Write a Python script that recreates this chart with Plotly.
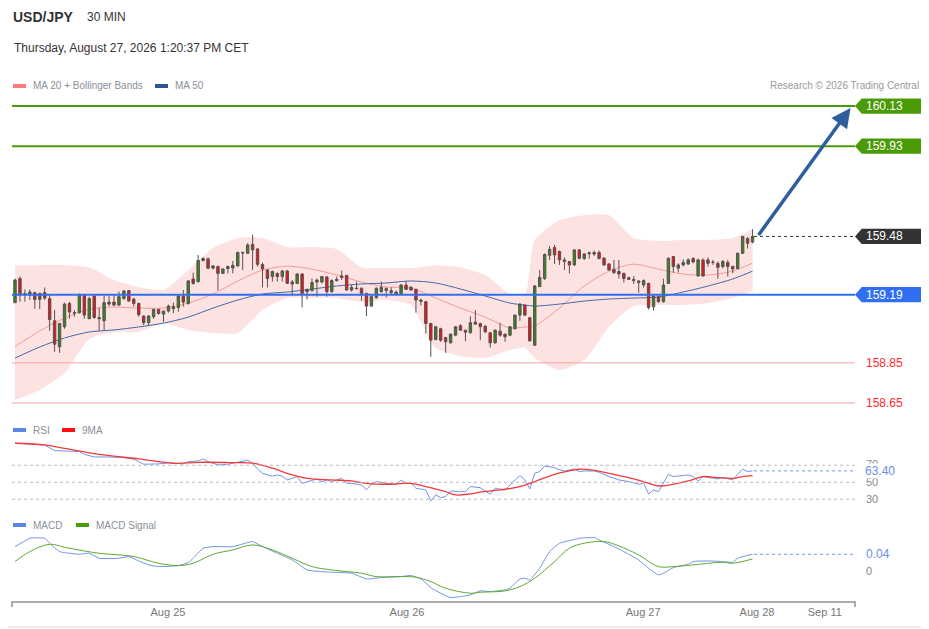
import plotly.graph_objects as go

# 30 min USD/JPY candles (candle index 0..149)
open_ = [159.15, 159.27, 159.19, 159.188, 159.20, 159.166, 159.20, 159.17, 159.06, 158.93,
         159.03, 159.146, 159.10, 159.10, 159.185, 159.07, 159.183, 159.076, 159.06, 159.143,
         159.153, 159.138, 159.17, 159.21, 159.168, 159.146, 159.083, 159.05, 159.08, 159.116,
         159.093, 159.108, 159.13, 159.126, 159.183, 159.146, 159.268, 159.255, 159.36, 159.368,
         159.322, 159.33, 159.296, 159.32, 159.323, 159.333, 159.40, 159.396, 159.44, 159.418,
         159.34, 159.313, 159.28, 159.296, 159.28, 159.308, 159.253, 159.246, 159.293, 159.205,
         159.21, 159.253, 159.253, 159.278, 159.205, 159.26, 159.283, 159.286, 159.213, 159.222,
         159.222, 159.196, 159.133, 159.175, 159.205, 159.22, 159.21, 159.203, 159.193, 159.238,
         159.226, 159.216, 159.163, 159.155, 159.046, 158.966, 159.02, 158.976, 158.95, 158.988,
         159.035, 159.013, 159.0, 159.053, 159.046, 159.033, 159.0, 158.95, 159.008, 158.993,
         158.988, 159.02, 159.088, 159.138, 159.075, 158.938, 159.23, 159.27, 159.386, 159.425,
         159.405, 159.363, 159.355, 159.338, 159.413, 159.37, 159.393, 159.40, 159.40, 159.372,
         159.343, 159.316, 159.305, 159.296, 159.274, 159.266, 159.258, 159.238, 159.246, 159.13,
         159.18, 159.155, 159.246, 159.38, 159.322, 159.338, 159.343, 159.37, 159.283, 159.363,
         159.363, 159.35, 159.346, 159.33, 159.35, 159.33, 159.32, 159.396, 159.47, 159.452]
high = [159.27, 159.28, 159.216, 159.216, 159.205, 159.20, 159.226, 159.19, 159.113, 159.05,
        159.15, 159.155, 159.113, 159.196, 159.188, 159.18, 159.19, 159.125, 159.183, 159.183,
        159.188, 159.205, 159.213, 159.213, 159.175, 159.15, 159.088, 159.088, 159.12, 159.12,
        159.11, 159.14, 159.15, 159.188, 159.213, 159.263, 159.30, 159.388, 159.376, 159.376,
        159.338, 159.335, 159.32, 159.335, 159.358, 159.405, 159.405, 159.446, 159.488, 159.42,
        159.35, 159.316, 159.31, 159.30, 159.313, 159.313, 159.263, 159.296, 159.296, 159.22,
        159.27, 159.27, 159.283, 159.283, 159.266, 159.28, 159.31, 159.288, 159.238, 159.255,
        159.226, 159.20, 159.186, 159.226, 159.255, 159.226, 159.226, 159.21, 159.243, 159.255,
        159.233, 159.22, 159.17, 159.158, 159.05, 159.033, 159.025, 158.98, 158.996, 159.033,
        159.043, 159.013, 159.083, 159.113, 159.05, 159.038, 159.005, 159.016, 159.05, 158.996,
        159.033, 159.09, 159.146, 159.14, 159.08, 159.238, 159.313, 159.396, 159.433, 159.438,
        159.41, 159.376, 159.358, 159.416, 159.416, 159.396, 159.405, 159.41, 159.41, 159.376,
        159.348, 159.363, 159.363, 159.30, 159.28, 159.283, 159.263, 159.266, 159.25, 159.188,
        159.183, 159.27, 159.376, 159.383, 159.346, 159.366, 159.371, 159.376, 159.37, 159.37,
        159.376, 159.363, 159.355, 159.363, 159.363, 159.335, 159.40, 159.483, 159.476, 159.516]
low = [159.148, 159.155, 159.155, 159.163, 159.12, 159.118, 159.163, 159.01, 158.905, 158.90,
       159.02, 159.07, 159.08, 159.096, 159.07, 159.07, 159.07, 159.01, 159.013, 159.133,
       159.133, 159.133, 159.166, 159.155, 159.13, 159.08, 159.038, 159.038, 159.07, 159.09,
       159.053, 159.10, 159.097, 159.105, 159.13, 159.14, 159.24, 159.25, 159.355, 159.316,
       159.316, 159.21, 159.293, 159.296, 159.296, 159.33, 159.313, 159.393, 159.313, 159.33,
       159.226, 159.226, 159.255, 159.255, 159.255, 159.243, 159.193, 159.243, 159.126, 159.166,
       159.205, 159.18, 159.246, 159.18, 159.20, 159.255, 159.263, 159.21, 159.205, 159.216,
       159.16, 159.083, 159.13, 159.17, 159.20, 159.176, 159.193, 159.188, 159.188, 159.213,
       159.21, 159.10, 159.136, 158.996, 158.88, 158.963, 158.955, 158.90, 158.946, 158.983,
       159.01, 158.958, 158.996, 159.04, 158.963, 158.998, 158.926, 158.946, 158.98, 158.955,
       158.983, 159.016, 159.06, 159.083, 158.955, 158.935, 159.23, 159.263, 159.363, 159.343,
       159.338, 159.313, 159.296, 159.333, 159.366, 159.363, 159.37, 159.383, 159.366, 159.333,
       159.31, 159.293, 159.27, 159.25, 159.263, 159.243, 159.20, 159.226, 159.116, 159.11,
       159.15, 159.15, 159.243, 159.30, 159.30, 159.33, 159.338, 159.346, 159.28, 159.28,
       159.33, 159.338, 159.27, 159.32, 159.28, 159.296, 159.316, 159.393, 159.42, 159.446]
close = [159.263, 159.19, 159.195, 159.203, 159.166, 159.196, 159.173, 159.066, 158.943, 159.046,
         159.143, 159.103, 159.098, 159.19, 159.088, 159.17, 159.076, 159.07, 159.15, 159.153,
         159.138, 159.18, 159.208, 159.158, 159.146, 159.09, 159.05, 159.083, 159.116, 159.096,
         159.108, 159.133, 159.12, 159.183, 159.153, 159.258, 159.246, 159.36, 159.37, 159.322,
         159.333, 159.296, 159.318, 159.33, 159.336, 159.40, 159.398, 159.438, 159.413, 159.341,
         159.318, 159.27, 159.305, 159.28, 159.308, 159.246, 159.243, 159.293, 159.196, 159.216,
         159.25, 159.263, 159.28, 159.205, 159.26, 159.266, 159.276, 159.213, 159.226, 159.22,
         159.196, 159.133, 159.18, 159.222, 159.226, 159.21, 159.20, 159.193, 159.238, 159.216,
         159.213, 159.163, 159.157, 159.046, 158.963, 159.03, 158.963, 158.955, 158.993, 159.03,
         159.013, 159.003, 159.05, 159.043, 159.03, 159.005, 158.95, 159.013, 158.988, 158.98,
         159.03, 159.088, 159.143, 159.088, 158.96, 159.233, 159.276, 159.39, 159.416, 159.388,
         159.363, 159.355, 159.338, 159.413, 159.371, 159.393, 159.398, 159.392, 159.37, 159.338,
         159.313, 159.30, 159.293, 159.27, 159.266, 159.26, 159.25, 159.26, 159.126, 159.183,
         159.155, 159.238, 159.371, 159.33, 159.338, 159.35, 159.363, 159.353, 159.363, 159.283,
         159.346, 159.352, 159.326, 159.355, 159.33, 159.318, 159.396, 159.48, 159.446, 159.48]
idx = list(range(len(close)))

# MA 20 + Bollinger Bands, MA 50 (read at sampled candles)
band_idx = [0, 5, 10, 15, 20, 25, 30, 35, 40, 45, 50, 55, 60, 65, 70, 75, 80, 85, 90, 95,
            100, 103, 105, 110, 115, 120, 125, 130, 135, 140, 145, 149]
bb_upper = [159.337, 159.337, 159.337, 159.327, 159.263, 159.228, 159.213, 159.312, 159.422, 159.472,
            159.472, 159.427, 159.427, 159.417, 159.327, 159.322, 159.322, 159.337, 159.327, 159.288,
            159.193, 159.188, 159.462, 159.561, 159.586, 159.586, 159.472, 159.457, 159.462, 159.462,
            159.472, 159.517]
bb_lower = [158.665, 158.715, 158.799, 158.969, 159.004, 159.004, 159.048, 159.014, 158.999, 158.999,
            159.113, 159.173, 159.173, 159.173, 159.153, 159.163, 159.138, 158.924, 158.884, 158.874,
            158.914, 158.924, 158.874, 158.814, 158.864, 159.029, 159.133, 159.138, 159.138, 159.148,
            159.173, 159.208]
ma20 = [158.931, 159.009, 159.073, 159.118, 159.128, 159.123, 159.123, 159.148, 159.193, 159.258,
        159.312, 159.332, 159.317, 159.288, 159.253, 159.228, 159.223, 159.173, 159.123, 159.078,
        159.024, 159.029, 159.034, 159.123, 159.233, 159.307, 159.342, 159.317, 159.292, 159.288,
        159.307, 159.347]
ma50 = [158.874, 158.929, 158.974, 159.004, 159.014, 159.029, 159.048, 159.078, 159.123, 159.163,
        159.193, 159.203, 159.218, 159.233, 159.243, 159.248, 159.258, 159.248, 159.218, 159.183,
        159.148, 159.138, 159.133, 159.143, 159.158, 159.168, 159.173, 159.178, 159.203, 159.233,
        159.268, 159.307]

# RSI and its 9MA
rsi_idx = [0, 3, 6, 8, 10, 13, 14, 16, 19, 22, 24, 26, 29, 31, 34, 35, 37, 38, 39, 41,
           43, 45, 47, 48, 49, 50, 52, 53, 54, 55, 56, 57, 58, 59, 61, 62, 63, 64, 66, 67,
           68, 70, 71, 72, 73, 75, 77, 78, 79, 80, 81, 83, 84, 85, 86, 87, 88, 90, 91, 92,
           94, 96, 97, 99, 100, 102, 103, 104, 105, 106, 107, 109, 110, 111, 113, 114, 115, 117, 118, 120,
           122, 124, 126, 127, 128, 129, 130, 131, 132, 133, 134, 136, 137, 138, 139, 140, 142, 143, 145, 146,
           147, 148, 149]
rsi_val = [95.9, 95.1, 93.9, 87.3, 86.9, 86.1, 82.9, 79.8, 79.8, 79.0, 77.1, 71.2, 71.6, 72.8, 71.6, 74.3, 75.1, 77.5, 74.3, 70.4,
           71.2, 73.5, 75.9, 72.4, 65.7, 60.6, 57.1, 58.6, 57.1, 52.8, 54.7, 56.7, 48.8, 50.8, 53.9, 50.8, 52.8, 50.8, 54.7, 48.8,
           48.8, 46.9, 41.0, 47.7, 50.8, 48.8, 47.7, 52.4, 48.8, 48.8, 43.0, 41.0, 28.1, 35.1, 32.0, 33.2, 39.8, 38.8, 39.0, 44.9,
           43.7, 35.9, 43.0, 41.0, 46.9, 57.9, 52.8, 42.2, 60.6, 62.6, 69.2, 67.3, 64.5, 63.3, 65.7, 62.6, 63.3, 63.3, 61.8, 56.7,
           52.8, 50.8, 47.7, 48.8, 36.3, 41.0, 39.0, 48.8, 59.4, 56.7, 57.5, 58.6, 56.7, 51.6, 56.7, 55.5, 53.9, 55.5, 52.8, 59.4,
           65.3, 62.6, 63.4]
rsi_ma_idx = [0, 6, 10, 17, 25, 32, 37, 44, 48, 52, 56, 59, 64, 68, 71, 76, 80, 83, 87, 89,
              92, 94, 98, 102, 105, 109, 112, 114, 117, 120, 124, 127, 130, 133, 136, 139, 142, 145, 147, 149]
rsi_ma_val = [95.9, 93.9, 90.0, 82.9, 77.5, 72.4, 73.5, 73.1, 72.4, 66.5, 58.6, 54.7, 52.8, 51.6, 48.8, 47.7, 48.8, 44.9, 39.0, 35.1,
              36.3, 38.3, 41.0, 44.9, 50.8, 59.4, 63.3, 65.3, 64.1, 60.6, 55.5, 50.8, 45.7, 47.7, 51.6, 56.7, 55.5, 54.7, 56.7, 57.9]

# MACD and signal
macd_idx = [0, 2, 3, 6, 7, 9, 10, 13, 15, 17, 21, 23, 25, 27, 29, 33, 35, 36, 38, 40,
            44, 47, 48, 50, 53, 56, 59, 62, 64, 68, 71, 74, 78, 80, 82, 84, 86, 88, 90, 92,
            94, 96, 99, 100, 102, 103, 104, 106, 108, 110, 112, 114, 117, 118, 121, 124, 126, 128, 130, 131,
            133, 136, 137, 140, 143, 145, 146, 149]
macd_val = [0.0574, 0.0707, 0.0770, 0.0770, 0.0653, 0.0457, 0.0433, 0.0394, 0.0418, 0.0300,
            0.0300, 0.0339, 0.0237, 0.0143, 0.0104, 0.0127, 0.0198, 0.0300, 0.0535, 0.0574,
            0.0574, 0.0668, 0.0692, 0.0574, 0.0418, 0.0261, 0.0025, -0.0014, -0.0029, -0.0053,
            -0.0186, -0.0155, -0.0131, -0.0108, -0.0186, -0.0390, -0.0523, -0.0625, -0.0602, -0.0562,
            -0.0468, -0.0484, -0.0445, -0.0406, -0.0186, -0.0171, -0.0209, 0.0065, 0.0457, 0.0653,
            0.0715, 0.0770, 0.0786, 0.0731, 0.0574, 0.0394, 0.0261, 0.0065, -0.0092, -0.0053,
            0.0080, 0.0159, 0.0222, 0.0237, 0.0222, 0.0206, 0.0300, 0.0394]
sig_idx = [0, 3, 7, 10, 14, 17, 24, 29, 33, 36, 40, 44, 48, 52, 56, 60, 64, 70, 73, 78,
           81, 84, 87, 92, 94, 99, 102, 105, 109, 112, 115, 119, 122, 126, 130, 133, 137, 143, 145, 149]
sig_val = [0.0222, 0.0457, 0.0629, 0.0559, 0.0472, 0.0418, 0.0339, 0.0182, 0.0127, 0.0182,
           0.0394, 0.0496, 0.0613, 0.0496, 0.0300, 0.0104, 0.0025, -0.0053, -0.0131, -0.0131,
           -0.0147, -0.0249, -0.0406, -0.0523, -0.0500, -0.0468, -0.0366, -0.0171, 0.0222, 0.0535,
           0.0653, 0.0692, 0.0590, 0.0378, 0.0104, 0.0104, 0.0143, 0.0206, 0.0182, 0.0284]

# key levels
level_prices = [160.13, 159.93, 159.19, 158.85, 158.65]
last_price = 159.48
rsi_last = 63.40
macd_last = 0.04

tick_pos = [30.9, 79.2, 126.9, 149.9, 163.6]
tick_text = ["Aug 25", "Aug 26", "Aug 27", "Aug 28", "Sep 11"]

X_MAX = 169.7
PRICE_RANGE = [158.615, 160.17]
GREEN = "#4b9a07"
BLUE = "#2f6ff0"
LINE_BLUE = "#7194e6"

fig = go.Figure()

# bollinger band fill (main price subplot)
fig.add_trace(go.Scatter(x=band_idx, y=bb_upper, mode="lines", line=dict(width=0, shape="spline", smoothing=0.6),
                         hoverinfo="skip", showlegend=False))
fig.add_trace(go.Scatter(x=band_idx, y=bb_lower, mode="lines", line=dict(width=0, shape="spline", smoothing=0.6),
                         fill="tonexty", fillcolor="#fde2e2", hoverinfo="skip", showlegend=False))
fig.add_trace(go.Scatter(x=band_idx, y=ma20, mode="lines",
                         line=dict(color="#f49a9a", width=1, shape="spline", smoothing=0.8), showlegend=False))
fig.add_trace(go.Scatter(x=band_idx, y=ma50, mode="lines",
                         line=dict(color="#4468a8", width=1, shape="spline", smoothing=0.8), showlegend=False))

# candles sit on an overlaying axis so they are drawn above the band
fig.add_trace(go.Candlestick(x=idx, open=open_, high=high, low=low, close=close, yaxis="y4",
                             increasing=dict(fillcolor="#2c8a1c", line=dict(color="#5b5050", width=1)),
                             decreasing=dict(fillcolor="#e8121a", line=dict(color="#5b5050", width=1)),
                             whiskerwidth=0, showlegend=False))

# RSI panel
fig.add_trace(go.Scatter(x=rsi_idx, y=rsi_val, mode="lines", yaxis="y2",
                         line=dict(color=LINE_BLUE, width=1), showlegend=False))
fig.add_trace(go.Scatter(x=rsi_ma_idx, y=rsi_ma_val, mode="lines", yaxis="y2",
                         line=dict(color="#f23a3a", width=1.3, shape="spline"), showlegend=False))

# MACD panel
fig.add_trace(go.Scatter(x=macd_idx, y=macd_val, mode="lines", yaxis="y3",
                         line=dict(color=LINE_BLUE, width=1, shape="spline", smoothing=0.5), showlegend=False))
fig.add_trace(go.Scatter(x=sig_idx, y=sig_val, mode="lines", yaxis="y3",
                         line=dict(color="#5fa832", width=1, shape="spline"), showlegend=False))

shapes = []
level_colors = [GREEN, GREEN, BLUE, "#f4a3a3", "#f4a3a3"]
level_widths = [2, 2, 2, 1, 1]
for p, c, w in zip(level_prices, level_colors, level_widths):
    shapes.append(dict(type="line", xref="paper", yref="y", x0=0, x1=1, y0=p, y1=p,
                       line=dict(color=c, width=w), layer="above"))

# dotted last-value lines
shapes.append(dict(type="line", xref="x", yref="y", x0=149.3, x1=X_MAX, y0=last_price, y1=last_price,
                   line=dict(color="#333", width=1, dash="dot")))
for v in [70, 50, 30]:
    shapes.append(dict(type="line", xref="paper", yref="y2", x0=0, x1=1, y0=v, y1=v,
                       line=dict(color="#bbbbbb", width=1, dash="dot")))
shapes.append(dict(type="line", xref="x", yref="y2", x0=149.3, x1=X_MAX, y0=rsi_last, y1=rsi_last,
                   line=dict(color=LINE_BLUE, width=1, dash="dot")))
shapes.append(dict(type="line", xref="x", yref="y3", x0=149.3, x1=X_MAX, y0=macd_val[-1], y1=macd_val[-1],
                   line=dict(color=LINE_BLUE, width=1, dash="dot")))

# price tags on the right
half = 0.038
tags = [(160.13, GREEN), (159.93, GREEN), (159.48, "#333333"), (159.19, BLUE)]
for p, c in tags:
    shapes.append(dict(type="path", xref="paper", yref="y",
                       path=f"M 1.0,{p} L 1.008,{p + half} L 1.0835,{p + half} L 1.0835,{p - half} L 1.008,{p - half} Z",
                       fillcolor=c, line=dict(width=0)))

# axis end ticks and outer frame
shapes.append(dict(type="line", xref="paper", yref="paper", x0=0, x1=0, y0=0, y1=-0.012,
                   line=dict(color="#aaaaaa", width=2)))
shapes.append(dict(type="line", xref="paper", yref="paper", x0=1, x1=1, y0=0, y1=-0.012,
                   line=dict(color="#aaaaaa", width=2)))
shapes.append(dict(type="rect", xref="paper", yref="paper", x0=-0.0119, x1=1.0854, y0=-0.0517, y1=1.1909,
                   line=dict(color="#e6eaef", width=2)))

# legend swatches
def swatch(x_px, y_paper, color):
    x0 = (x_px - 12) / 843
    x1 = (x_px + 1) / 843
    shapes.append(dict(type="line", xref="paper", yref="paper", x0=x0, x1=x1, y0=y_paper, y1=y_paper,
                       line=dict(color=color, width=4)))

swatch(13, 1.0239, "#ff7b7b")
swatch(155, 1.0239, "#2f5597")
swatch(13, (601 - 430) / 503, "#5b84e8")
swatch(62, (601 - 430) / 503, "#ff1010")
swatch(13, (601 - 525) / 503, "#5b84e8")
swatch(76, (601 - 525) / 503, "#4c9a07")

FONT = "Liberation Sans, Arial, sans-serif"
ann = []

def text(x_px, y_px, s, size=11, color="#888", anchor="left", bold=False):
    ann.append(dict(xref="paper", yref="paper", x=(x_px - 12) / 843, y=(601 - y_px) / 503,
                    text=f"<b>{s}</b>" if bold else s, showarrow=False, xanchor=anchor, yanchor="middle",
                    font=dict(family=FONT, size=size, color=color)))

text(11, 17, "USD/JPY", size=14, color="#333", bold=True)
text(85, 17, "30 MIN", size=12, color="#333")
text(12, 48, "Thursday, August 27, 2026 1:20:37 PM CET", size=12, color="#333")
text(31, 86, "MA 20 + Bollinger Bands", size=10, color="#8a8f99")
text(173, 86, "MA 50", size=10, color="#8a8f99")
text(921, 86, "Research © 2026 Trading Central", size=10, color="#9a9a9a", anchor="right")
text(31, 430, "RSI", size=10, color="#8a8f99")
text(80, 430, "9MA", size=10, color="#8a8f99")
text(31, 525, "MACD", size=10, color="#8a8f99")
text(94, 525, "MACD Signal", size=10, color="#8a8f99")

# right-side value labels
for p, c in tags:
    ann.append(dict(xref="paper", yref="y", x=1.0107, y=p, text=f"{p:.2f}", showarrow=False,
                    xanchor="left", yanchor="middle", font=dict(family=FONT, size=12, color="white")))
for p in level_prices[3:]:
    ann.append(dict(xref="paper", yref="y", x=1.0107, y=p, text=f"{p:.2f}", showarrow=False,
                    xanchor="left", yanchor="middle", font=dict(family=FONT, size=12, color="#ff2a2a")))
ann.append(dict(xref="paper", yref="y2", x=1.0107, y=72, text="70", showarrow=False,
                xanchor="left", yanchor="middle", font=dict(family=FONT, size=11, color="#888")))
for v in [50, 30]:
    ann.append(dict(xref="paper", yref="y2", x=1.0107, y=v, text=str(v), showarrow=False,
                    xanchor="left", yanchor="middle", font=dict(family=FONT, size=11, color="#888")))
ann.append(dict(xref="paper", yref="y2", x=1.0107, y=rsi_last, text=f"{rsi_last:.2f}", showarrow=False,
                xanchor="left", yanchor="middle", bgcolor="white", borderpad=0,
                font=dict(family=FONT, size=12, color="#6b8ee8")))
ann.append(dict(xref="paper", yref="y3", x=1.0107, y=macd_val[-1], text=f"{macd_last:.2f}", showarrow=False,
                xanchor="left", yanchor="middle", font=dict(family=FONT, size=12, color="#6b8ee8")))
ann.append(dict(xref="paper", yref="y3", x=1.0107, y=0, text="0", showarrow=False,
                xanchor="left", yanchor="middle", font=dict(family=FONT, size=11, color="#888")))

# target arrow
ann.append(dict(xref="x", yref="y", x=168.8, y=160.12, axref="x", ayref="y", ax=150.0, ay=last_price,
                text="", showarrow=True, arrowhead=2, arrowsize=1.1, arrowwidth=3.5, arrowcolor="#2e5e9e"))

# page body adds an 8px margin, so the figure is 8px smaller and shifted
fig.update_layout(
    width=921, height=621,
    margin=dict(l=4, r=74, t=90, b=28),
    paper_bgcolor="white", plot_bgcolor="white",
    showlegend=False,
    shapes=shapes,
    annotations=ann,
    xaxis=dict(range=[-0.606, X_MAX], anchor="y3", showgrid=False, zeroline=False,
               showline=True, linecolor="#aaaaaa", linewidth=2,
               tickmode="array", tickvals=tick_pos, ticktext=tick_text, ticks="",
               tickfont=dict(family=FONT, size=11, color="#777"),
               rangeslider=dict(visible=False)),
    yaxis=dict(domain=[0.3797, 1.0], range=PRICE_RANGE, visible=False),
    yaxis4=dict(domain=[0.3797, 1.0], range=PRICE_RANGE, overlaying="y", visible=False),
    yaxis2=dict(domain=[0.1909, 0.3241], range=[23.3, 102.1], visible=False),
    yaxis3=dict(domain=[0.0, 0.1372], range=[-0.0706, 0.0918], visible=False),
)

fig.write_html("out.html")
